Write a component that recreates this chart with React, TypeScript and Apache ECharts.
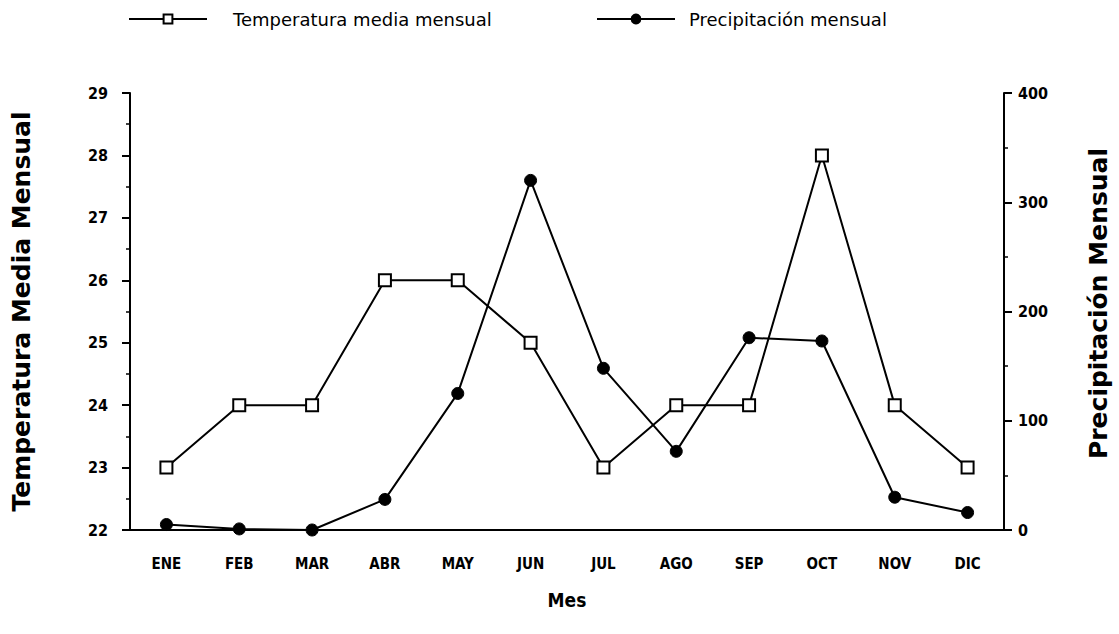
import React, { useEffect, useRef } from "react";
import * as echarts from "echarts";

const months = ["ENE", "FEB", "MAR", "ABR", "MAY", "JUN", "JUL", "AGO", "SEP", "OCT", "NOV", "DIC"];
const temperatura = [23, 24, 24, 26, 26, 25, 23, 24, 24, 28, 24, 23];
const precipitacion = [5, 1, 0, 28, 125, 320, 148, 72, 176, 173, 30, 16];
const seriesNames = ["Temperatura media mensual", "Precipitación mensual"];

const FONT = "'Liberation Sans Narrow', 'DejaVu Sans Condensed', Arial, sans-serif";

export default function App() {
  const ref = useRef<HTMLDivElement>(null);
  useEffect(() => {
    if (!ref.current) return;
    const chart = echarts.init(ref.current, undefined, { renderer: "svg" });
    chart.setOption({
      animation: false,
      backgroundColor: "#ffffff",
      textStyle: { fontFamily: FONT, color: "#000" },
      legend: [
        {
          data: [seriesNames[0]],
          left: 123,
          top: 5,
          itemWidth: 78,
          itemHeight: 11,
          textStyle: { fontSize: 18, color: "#000", fontFamily: "'DejaVu Sans', sans-serif", padding: [0, 0, 0, 21] },
        },
        {
          data: [seriesNames[1]],
          left: 591,
          top: 5,
          itemWidth: 78,
          itemHeight: 11,
          textStyle: { fontSize: 18, color: "#000", fontFamily: "'DejaVu Sans', sans-serif", padding: [0, 0, 0, 9] },
        },
      ],
      grid: { left: 130, right: 115, top: 93, bottom: 104 },
      xAxis: [
        {
          type: "category",
          data: months,
          boundaryGap: true,
          name: "Mes",
          nameLocation: "middle",
          nameGap: 60,
          nameTextStyle: { fontSize: 19, fontWeight: "bold", color: "#000" },
          axisLine: { lineStyle: { color: "#000", width: 2 } },
          axisTick: { alignWithLabel: true, length: 9, lineStyle: { color: "#000", width: 2 } },
          axisLabel: { fontSize: 15, fontWeight: "bold", color: "#000", margin: 26, interval: 0 },
          splitLine: { show: false },
        },
        {
          type: "category",
          data: months,
          boundaryGap: true,
          position: "bottom",
          axisLine: { show: false },
          axisTick: { alignWithLabel: false, length: 5, interval: 0, lineStyle: { color: "#000", width: 1.5 } },
          axisLabel: { show: false },
          splitLine: { show: false },
        },
      ],
      yAxis: [
        {
          type: "value",
          min: 22,
          max: 29,
          interval: 1,
          position: "left",
          name: "Temperatura Media Mensual",
          nameLocation: "middle",
          nameGap: 96,
          nameTextStyle: { fontSize: 25, fontWeight: "bold", color: "#000", fontFamily: "'DejaVu Sans', sans-serif" },
          axisLine: { show: true, lineStyle: { color: "#000", width: 2 } },
          axisTick: { show: true, length: 8, lineStyle: { color: "#000", width: 2 } },
          minorTick: { show: true, splitNumber: 2, length: 4, lineStyle: { color: "#000", width: 1.5 } },
          axisLabel: { fontSize: 16, fontWeight: "bold", color: "#000", margin: 22 },
          splitLine: { show: false },
        },
        {
          type: "value",
          min: 0,
          max: 400,
          interval: 100,
          position: "right",
          name: "Precipitación Mensual",
          nameLocation: "middle",
          nameGap: 82,
          nameRotate: 90,
          nameTextStyle: { fontSize: 25, fontWeight: "bold", color: "#000", fontFamily: "'DejaVu Sans', sans-serif", padding: [0, 0, 0, 16] },
          axisLine: { show: true, lineStyle: { color: "#000", width: 2 } },
          axisTick: { show: true, length: 8, lineStyle: { color: "#000", width: 2 } },
          minorTick: { show: true, splitNumber: 2, length: 4, lineStyle: { color: "#000", width: 1.5 } },
          axisLabel: { fontSize: 16, fontWeight: "bold", color: "#000", margin: 14 },
          splitLine: { show: false },
        },
      ],
      series: [
        {
          name: seriesNames[0],
          type: "line",
          xAxisIndex: 0,
          yAxisIndex: 0,
          data: temperatura,
          symbol: "rect",
          symbolSize: 12,
          itemStyle: { color: "#ffffff", borderColor: "#000", borderWidth: 2 },
          lineStyle: { color: "#000", width: 2 },
          z: 3,
        },
        {
          name: seriesNames[1],
          type: "line",
          xAxisIndex: 0,
          yAxisIndex: 1,
          data: precipitacion,
          symbol: "circle",
          symbolSize: 12,
          itemStyle: { color: "#000", borderColor: "#000", borderWidth: 1 },
          lineStyle: { color: "#000", width: 2 },
          z: 2,
        },
      ],
    });
    return () => chart.dispose();
  }, []);
  return <div ref={ref} style={{ width: 1119, height: 634, position: "absolute", left: 0, top: 0 }} />;
}
